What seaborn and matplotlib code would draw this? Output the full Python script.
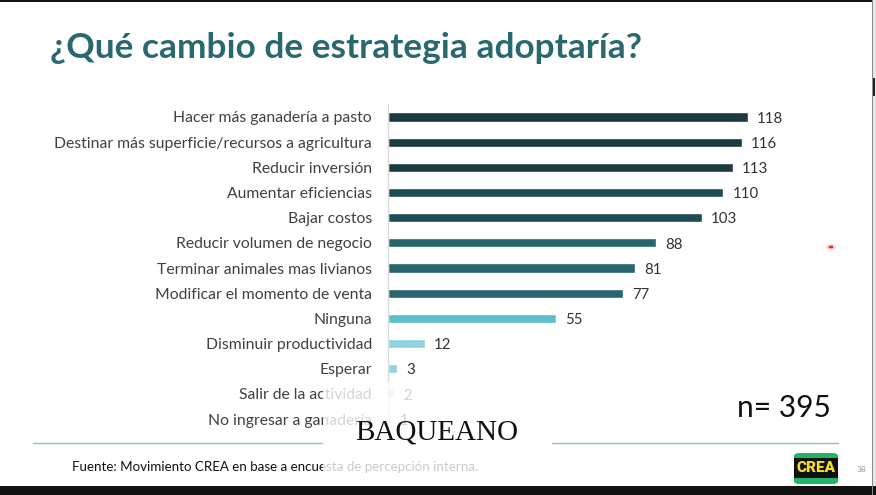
import matplotlib
matplotlib.use("Agg")
import matplotlib.pyplot as plt
from matplotlib.patches import Rectangle, FancyBboxPatch, Circle
from matplotlib.lines import Line2D
import seaborn as sns
import pandas as pd

categories = [
    "Hacer más ganadería a pasto",
    "Destinar más superficie/recursos a agricultura",
    "Reducir inversión",
    "Aumentar eficiencias",
    "Bajar costos",
    "Reducir volumen de negocio",
    "Terminar animales mas livianos",
    "Modificar el momento de venta",
    "Ninguna",
    "Disminuir productividad",
    "Esperar",
    "Salir de la actividad",
    "No ingresar a ganadería",
]
values = [118, 116, 113, 110, 103, 88, 81, 77, 55, 12, 3, 2, 1]
bar_colors = [
    "#1b3a41", "#1b3a41", "#1b3a41",
    "#1f4d56", "#1f4d56",
    "#28666e", "#28666e", "#28666e",
    "#5bbecb",
    "#8fd3dd", "#8fd3dd",
    "#b5e2ea", "#b5e2ea",
]
title = "¿Qué cambio de estrategia adoptaría?"
sample_text = "n= 395"
source_text = "Fuente: Movimiento CREA en base a encuesta de percepción interna."

sns.set_theme(style="white")
plt.rcParams["font.family"] = ["Lato", "DejaVu Sans"]

W, H = 876, 495
fig = plt.figure(figsize=(W / 100, H / 100), dpi=100)
fig.patch.set_facecolor("white")

def fx(x):
    return x / W

def fy(y):
    return 1 - y / H

# axes placement
ax_left, ax_right = 388, 388 + 427
ax_top, ax_bot = 104.4, 431.6
ax = fig.add_axes([fx(ax_left), fy(ax_bot), (ax_right - ax_left) / W, (ax_bot - ax_top) / H])

df = pd.DataFrame({"cat": categories, "val": values})
sns.barplot(data=df, x="val", y="cat", hue="cat", palette=bar_colors,
            legend=False, orient="h", width=0.36, ax=ax, saturation=1)
ax.set_xlim(0, 140)
ax.set_ylim(len(categories) - 0.5, -0.5)
ax.set_xlabel("")
ax.set_ylabel("")
ax.set_xticks([])
for s in ["top", "right", "bottom"]:
    ax.spines[s].set_visible(False)
ax.spines["left"].set_color("#d9d9d9")
ax.spines["left"].set_linewidth(1.0)
ax.tick_params(axis="y", length=0, pad=11.5, labelsize=11.3, labelcolor="#404040")
ax.set_facecolor("none")

for i, v in enumerate(values):
    ax.annotate(str(v), xy=(v, i), xytext=(6.5, -1.3), textcoords="offset points",
                va="center", ha="left", fontsize=10.8, color="#333333")

# title
fig.text(fx(50), fy(48), title, fontsize=25.4, fontweight="bold", color="#2a6870",
         ha="left", va="center")

# n= 395
fig.text(fx(737), fy(408), sample_text, fontsize=21.5, color="#111111", ha="left", va="center")

# footer line with gap
for x0, x1 in [(33, 322), (552, 838)]:
    fig.add_artist(Line2D([fx(x0), fx(x1)], [fy(443), fy(443)], color="#86c7bf", lw=1.0))

# footer text
fig.text(fx(72), fy(467), source_text, fontsize=9.6, color="#111111", ha="left", va="center")

# watermark overlay
fig.add_artist(Rectangle((fx(323), fy(480)), (552 - 323) / W, (480 - 382) / H,
                         facecolor="white", edgecolor="none", alpha=0.78, zorder=5))
fig.text(fx(437), fy(432), "BAQUEANO", fontsize=21, family="Liberation Serif",
         color="#111111", ha="center", va="center", zorder=6)

# CREA logo
fig.add_artist(FancyBboxPatch((fx(794), fy(484)), (838 - 794) / W, (484 - 453) / H,
                              boxstyle="round,pad=0,rounding_size=0.006",
                              facecolor="#22b36b", edgecolor="none", zorder=3))
fig.add_artist(Rectangle((fx(794), fy(478)), (838 - 794) / W, (478 - 458) / H,
                         facecolor="#111111", edgecolor="none", zorder=4))
fig.text(fx(816), fy(468.5), "CREA", fontsize=11, fontweight="heavy", color="#f3df2c",
         ha="center", va="center", zorder=5, family="Roboto")
fig.text(fx(857), fy(469), "38", fontsize=6, color="#9a9a9a", ha="left", va="center")

# laser pointer dot
fig.add_artist(Circle((fx(831), fy(247)), 5.0 / W, facecolor="#f6d3d3", edgecolor="none",
                      transform=fig.transFigure, zorder=6))
fig.add_artist(Circle((fx(831), fy(247)), 2.4 / W, facecolor="#e0302f", edgecolor="none",
                      transform=fig.transFigure, zorder=7))

# screen borders
fig.add_artist(Rectangle((0, fy(2)), fx(873), 2 / H, facecolor="#111111", edgecolor="none", zorder=8))
fig.add_artist(Rectangle((0, 0), 1, (495 - 486) / H, facecolor="#111111", edgecolor="none", zorder=8))
fig.add_artist(Rectangle((fx(872), 0), 1.2 / W, 1, facecolor="#8a8a8a", edgecolor="none", zorder=8))
fig.add_artist(Rectangle((fx(873.2), 0), 3 / W, 1, facecolor="#e6e6e6", edgecolor="none", zorder=7))
fig.add_artist(Rectangle((fx(873.2), fy(96)), 2 / W, 18 / H, facecolor="#222222", edgecolor="none", zorder=8))

fig.savefig("out.png", dpi=100, facecolor="white")
